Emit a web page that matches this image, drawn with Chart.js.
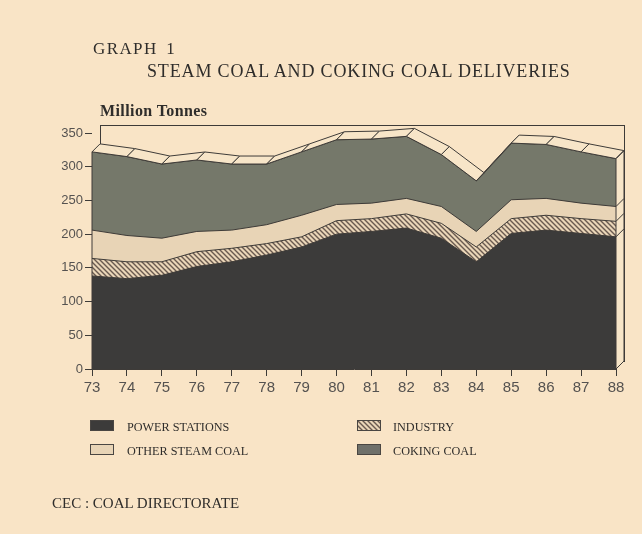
<!DOCTYPE html>
<html>
<head>
<meta charset="utf-8">
<script src="https://cdn.jsdelivr.net/npm/chart.js@4"></script>
<style>
  html, body { margin: 0; padding: 0; }
  body { width: 642px; height: 534px; background: #f9e4c6; position: relative; overflow: hidden; font-family: "Liberation Serif", "DejaVu Serif", serif; color: #2f2d2b; }
  canvas { position: absolute; left: 0; top: 0; }
  .t { position: absolute; white-space: nowrap; line-height: 1; }
  .sw { position: absolute; width: 24px; height: 11px; border: 1px solid #4a4642; box-sizing: border-box; }
</style>
</head>
<body>
<canvas id="chart" width="642" height="534"></canvas>
<div class="t" style="left:93px; top:40px; font-size:17px; letter-spacing:1.4px; word-spacing:3px;">GRAPH 1</div>
<div class="t" style="left:147px; top:62px; font-size:18px; letter-spacing:0.85px;">STEAM COAL AND COKING COAL DELIVERIES</div>
<div class="t" style="left:100px; top:103px; font-size:16px; font-weight:bold; letter-spacing:0.4px;">Million Tonnes</div>

<div class="sw" style="left:90px; top:420px; background:#3c3b3a;"></div>
<div class="t" style="left:127px; top:421px; font-size:12.2px;">POWER STATIONS</div>
<div class="sw" style="left:90px; top:444px; background:#e8d4b6;"></div>
<div class="t" style="left:127px; top:445px; font-size:12.2px;">OTHER STEAM COAL</div>
<div class="sw" id="hatchSw" style="left:357px; top:420px;"></div>
<div class="t" style="left:393px; top:421px; font-size:12.2px;">INDUSTRY</div>
<div class="sw" style="left:357px; top:444px; background:#6f706a;"></div>
<div class="t" style="left:393px; top:445px; font-size:12.2px;">COKING COAL</div>

<div class="t" style="left:52px; top:496px; font-size:15px;">CEC : COAL DIRECTORATE</div>

<script>
const years = ["73","74","75","76","77","78","79","80","81","82","83","84","85","86","87","88"];
const powerStations = [138,134,139,152,159,169,181,200,204,209,194,159,201,206,201,196];
const industry      = [26,25,20,22,20,17,15,20,19,21,22,22,22,22,22,23];
const otherSteam    = [42,39,35,30,27,28,32,24,23,23,25,23,28,25,23,22];
const cokingCoal    = [116,117,110,106,98,90,94,96,95,92,77,75,84,80,76,71];
const yTicks = [0,50,100,150,200,250,300,350];

const depth = 8;
const lineCol = "#3e3b38";
const ribbonCol = "#f7e5c8";

// hatch for industry
const pc = document.createElement("canvas");
pc.width = 5; pc.height = 5;
const px = pc.getContext("2d");
px.fillStyle = "#ead6b8";
px.fillRect(0, 0, 5, 5);
px.strokeStyle = "#6a5a50";
px.lineWidth = 1.4;
px.beginPath();
px.moveTo(-1, -1); px.lineTo(6, 6);
px.moveTo(-1, 4); px.lineTo(1, 6);
px.moveTo(4, -1); px.lineTo(6, 1);
px.stroke();
const ctx = document.getElementById("chart").getContext("2d");
const hatch = ctx.createPattern(pc, "repeat");
document.getElementById("hatchSw").style.background = "url(" + pc.toDataURL() + ")";

const box3d = {
  id: "box3d",
  beforeDatasetsDraw(chart) {
    const { ctx, chartArea: a } = chart;
    ctx.save();
    ctx.strokeStyle = lineCol;
    ctx.lineWidth = 1;
    ctx.strokeRect(a.left + depth + 0.5, a.top - depth + 0.5, a.right - a.left, a.bottom - a.top);
    ctx.beginPath();
    ctx.moveTo(a.left, a.bottom); ctx.lineTo(a.left + depth, a.bottom - depth);
    ctx.stroke();
    ctx.restore();
  },
  afterDatasetsDraw(chart) {
    const { ctx, chartArea: a } = chart;
    const top = chart.getDatasetMeta(chart.data.datasets.length - 1).data;
    ctx.save();
    ctx.strokeStyle = lineCol;
    ctx.lineWidth = 1;
    ctx.fillStyle = ribbonCol;
    for (let i = 0; i < top.length - 1; i++) {
      const p = top[i], q = top[i + 1];
      ctx.beginPath();
      ctx.moveTo(p.x, p.y);
      ctx.lineTo(q.x, q.y);
      ctx.lineTo(q.x + depth, q.y - depth);
      ctx.lineTo(p.x + depth, p.y - depth);
      ctx.closePath();
      ctx.fill();
      ctx.stroke();
    }
    // right side
    const last = top[top.length - 1];
    ctx.beginPath();
    ctx.moveTo(last.x, last.y);
    ctx.lineTo(last.x + depth, last.y - depth);
    ctx.lineTo(last.x + depth, a.bottom - depth);
    ctx.lineTo(last.x, a.bottom);
    ctx.closePath();
    ctx.fill();
    ctx.stroke();
    chart.data.datasets.forEach((d, k) => {
      const m = chart.getDatasetMeta(k).data;
      const pt = m[m.length - 1];
      ctx.beginPath();
      ctx.moveTo(pt.x, pt.y);
      ctx.lineTo(pt.x + depth, pt.y - depth);
      ctx.stroke();
    });
    // left edge
    ctx.beginPath();
    ctx.moveTo(a.left, a.bottom);
    ctx.lineTo(a.left, top[0].y);
    ctx.stroke();
    ctx.restore();
  }
};

function series(label, data, bg) {
  return { label, data, backgroundColor: bg, borderColor: lineCol, borderWidth: 1, fill: "origin", pointRadius: 0, tension: 0 };
}

new Chart(ctx, {
  type: "line",
  data: {
    labels: years,
    datasets: [
      series("POWER STATIONS", powerStations, "#3c3b3a"),
      series("INDUSTRY", industry, hatch),
      series("OTHER STEAM COAL", otherSteam, "#e8d4b6"),
      series("COKING COAL", cokingCoal, "#75786a")
    ]
  },
  options: {
    responsive: false,
    animation: false,
    layout: { padding: { top: 133, right: 26, left: 0, bottom: 0 } },
    plugins: { legend: { display: false }, tooltip: { enabled: false } },
    scales: {
      x: {
        offset: false,
        grid: { drawOnChartArea: false, drawTicks: true, tickLength: 7, color: lineCol },
        border: { display: true, color: lineCol },
        ticks: { color: "#555250", padding: 3, font: { family: "Liberation Sans", size: 15 }, maxRotation: 0 },
        afterFit(s) { s.height = 165; }
      },
      y: {
        stacked: true,
        min: 0, max: 350,
        afterBuildTicks(s) { s.ticks = yTicks.map(v => ({ value: v })); },
        grid: { drawOnChartArea: false, drawTicks: true, tickLength: 7, color: lineCol },
        border: { display: false },
        ticks: { color: "#555250", padding: 2, font: { family: "Liberation Sans", size: 13 } },
        afterFit(s) { s.width = 92; }
      }
    }
  },
  plugins: [box3d]
});
</script>
</body>
</html>
